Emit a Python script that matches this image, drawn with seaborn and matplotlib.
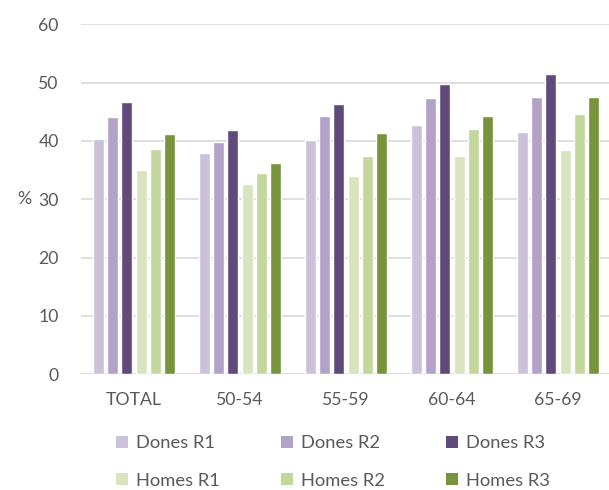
import matplotlib
matplotlib.use("Agg")
import matplotlib.pyplot as plt
import seaborn as sns
import pandas as pd
from matplotlib.patches import Patch

categories = ["TOTAL", "50-54", "55-59", "60-64", "65-69"]
series = ["Dones R1", "Dones R2", "Dones R3", "Homes R1", "Homes R2", "Homes R3"]
dones_r1 = [40.3, 37.9, 40.2, 42.7, 41.5]
dones_r2 = [44.1, 39.9, 44.2, 47.4, 47.5]
dones_r3 = [46.6, 41.8, 46.3, 49.8, 51.4]
homes_r1 = [35.1, 32.6, 34.0, 37.5, 38.5]
homes_r2 = [38.6, 34.5, 37.5, 42.0, 44.6]
homes_r3 = [41.2, 36.2, 41.3, 44.2, 47.6]
colors = ["#ccc1da", "#b3a2c7", "#604a7b", "#d7e4bd", "#c3d69b", "#77933c"]
yticks = [0, 10, 20, 30, 40, 50, 60]

values = [dones_r1, dones_r2, dones_r3, homes_r1, homes_r2, homes_r3]
rows = []
for s, vals in zip(series, values):
    for c, v in zip(categories, vals):
        rows.append({"cat": c, "serie": s, "val": v})
df = pd.DataFrame(rows)

sns.set_theme(style="white")
plt.rcParams["font.family"] = ["Lato", "DejaVu Sans"]
txt = "#595959"

fig = plt.figure(figsize=(6.09, 4.90), dpi=100)
ax = fig.add_axes([81 / 609, 1 - 374.3 / 490, 530 / 609, 350 / 490])

sns.barplot(data=df, x="cat", y="val", hue="serie", order=categories,
            hue_order=series, palette=colors, width=0.81, gap=0.22,
            ax=ax, legend=False, saturation=1)

ax.set_ylim(0, 60)
ax.set_xlim(-0.5, 4.5)
ax.set_yticks(yticks)
ax.yaxis.grid(True, color="#d9d9d9", linewidth=1.2)
ax.set_axisbelow(True)
for sp in ax.spines.values():
    sp.set_visible(False)
ax.axhline(0, color="#d9d9d9", linewidth=1.2, zorder=0)
ax.tick_params(axis="both", length=0, labelsize=12.7, labelcolor=txt)
ax.tick_params(axis="y", pad=16)
ax.tick_params(axis="x", pad=13)
ax.set_xlabel("")
ax.set_ylabel("%", rotation=0, color=txt, fontsize=12.7, labelpad=10, va="center")

handles = [Patch(facecolor=c, edgecolor="none") for c in colors]
order = [0, 3, 1, 4, 2, 5]
fig.legend([handles[i] for i in order], [series[i] for i in order],
           ncol=3, loc="center", bbox_to_anchor=(333 / 609, 1 - 462 / 490),
           frameon=False, fontsize=13.2, labelcolor=txt,
           handlelength=0.68, handleheight=0.68, handletextpad=0.45,
           columnspacing=3.3, labelspacing=1.15)

fig.savefig("out.png", dpi=100)
